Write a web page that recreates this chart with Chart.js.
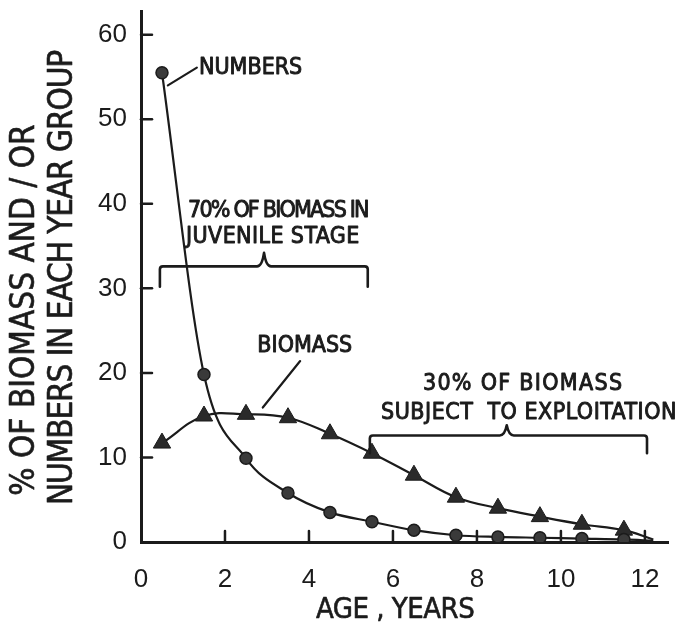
<!DOCTYPE html>
<html>
<head>
<meta charset="utf-8">
<script src="https://cdn.jsdelivr.net/npm/chart.js@4.4.1/dist/chart.umd.min.js"></script>
<style>
  html, body { margin: 0; padding: 0; background: #ffffff; }
  #wrap { width: 683px; height: 637px; position: relative; }
</style>
</head>
<body>
<div id="wrap"><canvas id="chart" width="683" height="637"></canvas></div>
<script>
// Age groups (years) at which each year group is plotted
const ages = [0.5, 1.5, 2.5, 3.5, 4.5, 5.5, 6.5, 7.5, 8.5, 9.5, 10.5, 11.5];
// Percent of numbers in each year group
const numbers = [55.5, 19.8, 9.9, 5.8, 3.5, 2.4, 1.4, 0.8, 0.6, 0.5, 0.4, 0.3];
// Percent of biomass in each year group
const biomass = [11.7, 14.9, 15.1, 14.7, 12.8, 10.5, 7.9, 5.3, 4.0, 3.0, 2.1, 1.4];
// Where the fitted curves run out at the right
const curveEndAge = 12.2;
const numbersEnd = 0.15;
const biomassEnd = 0.3;

// Axis tick labels
const xTickLabels = [0, 2, 4, 6, 8, 10, 12];
const yTickLabels = [0, 10, 20, 30, 40, 50, 60];

const INK = '#1b1b1b';
const NARROW = '"Liberation Sans Narrow", "DejaVu Sans Condensed", "Liberation Sans", sans-serif';
const SANS = '"Liberation Sans", Arial, sans-serif';

function series(ys, endY) {
  const pts = ages.map((a, i) => ({ x: a, y: ys[i] }));
  pts.push({ x: curveEndAge, y: endY });
  return pts;
}
const hideLast = (ctx) => (ctx.dataIndex === ages.length ? 0 : undefined);

// Annotation text, leaders and braces, placed in data units
const annotations = {
  texts: [
    { text: 'NUMBERS', x: 1.38, y: 56.1, align: 'left', spacing: 0 },
    { text: '70% OF BIOMASS IN', x: 3.26, y: 39.1, align: 'center', spacing: -1.8 },
    { text: 'JUVENILE STAGE', x: 3.14, y: 36.1, align: 'center', spacing: 0.4 },
    { text: 'BIOMASS', x: 3.9, y: 23.2, align: 'center', spacing: 0 },
    { text: '30% OF BIOMASS', x: 9.1, y: 18.7, align: 'center', spacing: 1.3 },
    { text: 'SUBJECT  TO EXPLOITATION', x: 9.24, y: 15.2, align: 'center', spacing: 0.5 }
  ],
  leaders: [
    { x1: 0.64, y1: 54.0, x2: 1.33, y2: 56.1 },
    { x1: 3.79, y1: 21.4, x2: 2.9, y2: 15.9 }
  ],
  braces: [
    { x1: 0.45, x2: 5.4, xPeak: 2.93, yLine: 32.6, yEnd: 30.2, yPeak: 34.2 },
    { x1: 5.45, x2: 12.05, xPeak: 8.71, yLine: 12.6, yEnd: 10.5, yPeak: 13.8 }
  ]
};

// heavier lettering: fill plus a thin outline
function inkText(ctx, text, x, y, weight) {
  ctx.lineWidth = weight;
  ctx.strokeText(text, x, y);
  ctx.fillText(text, x, y);
}

const decorations = {
  id: 'decorations',
  afterDatasetsDraw(chart) {
    const { ctx, scales: { x, y } } = chart;
    const px = (v) => x.getPixelForValue(v);
    const py = (v) => y.getPixelForValue(v);
    ctx.save();
    ctx.strokeStyle = INK;
    ctx.fillStyle = INK;
    ctx.lineCap = 'round';
    ctx.lineJoin = 'round';

    // inward tick marks
    ctx.lineWidth = 2.5;
    xTickLabels.forEach((v) => {
      if (v === 0) return;
      ctx.beginPath();
      ctx.moveTo(px(v), py(0));
      ctx.lineTo(px(v), py(0) - 11);
      ctx.stroke();
    });
    yTickLabels.forEach((v) => {
      if (v === 0) return;
      ctx.beginPath();
      ctx.moveTo(px(0), py(v));
      ctx.lineTo(px(0) + 11, py(v));
      ctx.stroke();
    });

    // leader lines
    ctx.lineWidth = 2.2;
    annotations.leaders.forEach((l) => {
      ctx.beginPath();
      ctx.moveTo(px(l.x1), py(l.y1));
      ctx.lineTo(px(l.x2), py(l.y2));
      ctx.stroke();
    });

    // braces
    ctx.lineWidth = 2.6;
    annotations.braces.forEach((b) => {
      const x1 = px(b.x1), x2 = px(b.x2), xp = px(b.xPeak);
      const yl = py(b.yLine), ye = py(b.yEnd), yp = py(b.yPeak);
      ctx.beginPath();
      ctx.moveTo(x1, ye);
      ctx.lineTo(x1, yl + 3);
      ctx.quadraticCurveTo(x1, yl, x1 + 3, yl);
      ctx.lineTo(xp - 7, yl);
      ctx.quadraticCurveTo(xp - 2, yl, xp, yp);
      ctx.quadraticCurveTo(xp + 2, yl, xp + 7, yl);
      ctx.lineTo(x2 - 3, yl);
      ctx.quadraticCurveTo(x2, yl, x2, yl + 3);
      ctx.lineTo(x2, ye);
      ctx.stroke();
    });

    // annotation text
    ctx.font = '23px ' + NARROW;
    ctx.textBaseline = 'middle';
    annotations.texts.forEach((t) => {
      ctx.letterSpacing = t.spacing + 'px';
      ctx.textAlign = t.align;
      inkText(ctx, t.text, px(t.x), py(t.y), 0.9);
    });

    // x axis title
    ctx.font = '29px ' + NARROW;
    ctx.letterSpacing = '-0.5px';
    ctx.textAlign = 'center';
    inkText(ctx, 'AGE , YEARS', px(6.05), 610, 0.6);

    // y axis title, two lines
    ctx.font = '33px ' + NARROW;
    ctx.textAlign = 'center';
    ctx.textBaseline = 'middle';
    ctx.save();
    ctx.translate(25, 310);
    ctx.rotate(-Math.PI / 2);
    ctx.letterSpacing = '0px';
    inkText(ctx, '% OF BIOMASS AND / OR', 0, 0, 0.6);
    ctx.restore();
    ctx.save();
    ctx.translate(63, 278);
    ctx.rotate(-Math.PI / 2);
    ctx.letterSpacing = '-1.1px';
    inkText(ctx, 'NUMBERS IN EACH YEAR GROUP', 0, 0, 0.6);
    ctx.restore();

    ctx.restore();
  }
};

new Chart(document.getElementById('chart'), {
  type: 'line',
  data: {
    datasets: [
      {
        label: 'Numbers',
        data: series(numbers, numbersEnd),
        borderColor: INK,
        borderWidth: 2.2,
        cubicInterpolationMode: 'monotone',
        pointStyle: 'circle',
        pointRadius: (ctx) => hideLast(ctx) ?? 6,
        pointBackgroundColor: '#3a3a3a',
        pointBorderColor: INK,
        pointBorderWidth: 1.5
      },
      {
        label: 'Biomass',
        data: series(biomass, biomassEnd),
        borderColor: INK,
        borderWidth: 2.2,
        tension: 0.4,
        pointStyle: 'triangle',
        pointRadius: (ctx) => hideLast(ctx) ?? 10,
        pointBackgroundColor: '#2a2a2a',
        pointBorderColor: INK,
        pointBorderWidth: 1
      }
    ]
  },
  options: {
    responsive: false,
    animation: false,
    events: [],
    layout: { padding: { top: 5, right: 15, left: 0, bottom: 0 } },
    plugins: { legend: { display: false }, tooltip: { enabled: false } },
    scales: {
      x: {
        type: 'linear',
        min: 0,
        max: 12.55,
        grid: { display: false, drawTicks: false },
        border: { display: true, color: INK, width: 3 },
        afterBuildTicks: (axis) => { axis.ticks = xTickLabels.map((v) => ({ value: v })); },
        afterFit: (axis) => { axis.height = 95; axis.paddingLeft = 0; axis.paddingRight = 0; },
        ticks: {
          color: INK,
          padding: 22,
          font: { family: SANS, size: 26 },
          callback: (v) => String(v)
        }
      },
      y: {
        type: 'linear',
        min: 0,
        max: 62.8,
        grid: { display: false, drawTicks: false },
        border: { display: true, color: INK, width: 3 },
        afterBuildTicks: (axis) => { axis.ticks = yTickLabels.map((v) => ({ value: v })); },
        afterFit: (axis) => { axis.width = 141; axis.paddingTop = 0; axis.paddingBottom = 0; },
        ticks: {
          color: INK,
          padding: 14,
          font: { family: SANS, size: 26 },
          callback: (v) => String(v)
        }
      }
    }
  },
  plugins: [decorations]
});
</script>
</body>
</html>
